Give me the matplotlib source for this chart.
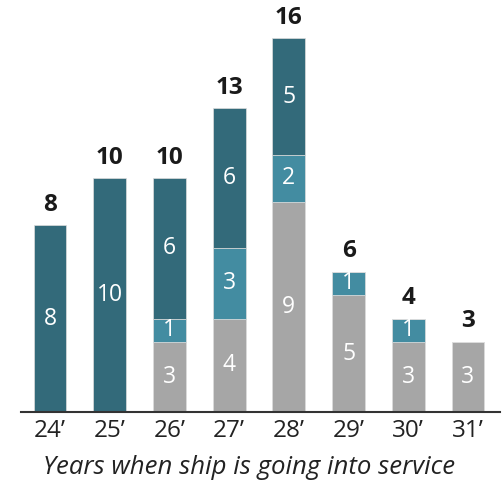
import matplotlib
matplotlib.use("Agg")
import matplotlib.pyplot as plt
import numpy as np

years = ["24’", "25’", "26’", "27’", "28’", "29’", "30’", "31’"]
gray_vals = [0, 0, 3, 4, 9, 5, 3, 3]
light_vals = [0, 0, 1, 3, 2, 1, 1, 0]
dark_vals = [8, 10, 6, 6, 5, 0, 0, 0]
xlabel = "Years when ship is going into service"

c_gray = "#A6A6A6"
c_light = "#438CA1"
c_dark = "#336A7A"

plt.rcParams['font.family'] = ['Open Sans', 'DejaVu Sans']

fig = plt.figure(figsize=(5.03, 4.86), dpi=100)
ax = fig.add_axes([21/503, 74/486, 479/503, 412/486])

x = np.arange(len(years))
w = 0.55
g = np.array(gray_vals)
l = np.array(light_vals)
d = np.array(dark_vals)

ax.bar(x, g, w, color=c_gray, edgecolor="#dddddd", linewidth=0.5)
ax.bar(x, l, w, bottom=g, color=c_light, edgecolor="#dddddd", linewidth=0.5)
ax.bar(x, d, w, bottom=g + l, color=c_dark, edgecolor="#dddddd", linewidth=0.5)

for i in range(len(years)):
    base = 0
    for v in (g[i], l[i], d[i]):
        if v > 0:
            ax.text(x[i], base + v / 2, str(v), ha="center", va="center",
                    color="white", fontsize=16.5)
        base += v
    tot = g[i] + l[i] + d[i]
    ax.text(x[i], tot + 0.36, str(tot), ha="center", va="bottom",
            color="#1a1a1a", fontsize=17.5, fontweight="bold")

ax.set_xlim(-0.486, 7.536)
ax.set_ylim(0, 17.63)
ax.set_xticks(x)
ax.set_xticklabels(years, fontsize=17.5, color="#222222")
ax.tick_params(axis="x", length=0, pad=5)
ax.set_yticks([])
for s in ("top", "right", "left"):
    ax.spines[s].set_visible(False)
ax.spines["bottom"].set_color("#333333")
ax.spines["bottom"].set_linewidth(1.5)

fig.text(249/503, 1 - 467/486, xlabel, ha="center", va="center",
         fontsize=18.5, style="italic", color="#222222")

fig.savefig("out.png", dpi=100)
